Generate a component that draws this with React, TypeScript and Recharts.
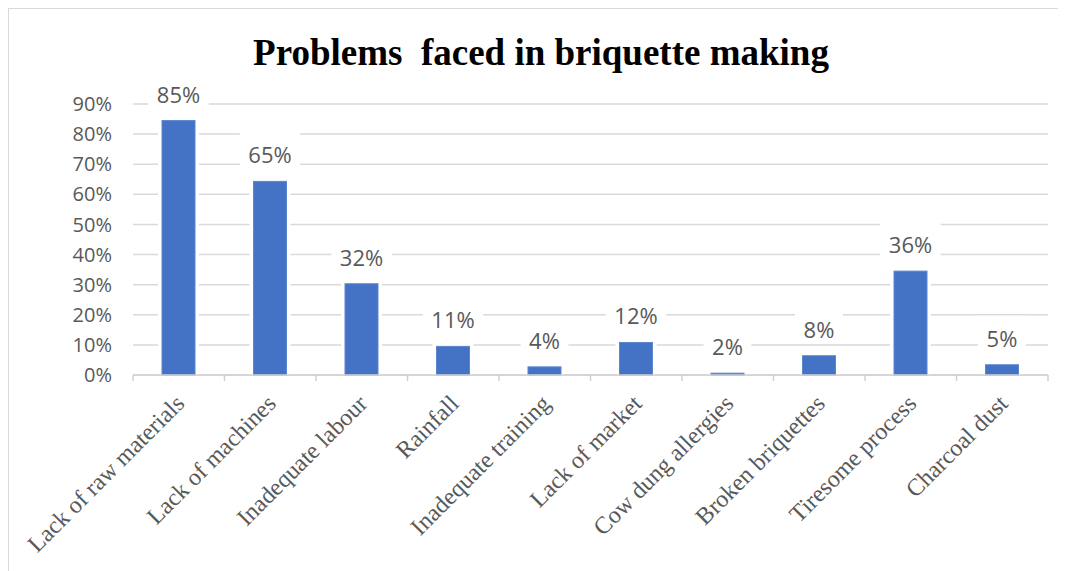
import { BarChart, Bar, XAxis, YAxis, CartesianGrid, LabelList } from 'recharts';

const problems = [
  'Lack of raw materials',
  'Lack of machines',
  'Inadequate labour',
  'Rainfall',
  'Inadequate training',
  'Lack of market',
  'Cow dung allergies',
  'Broken briquettes',
  'Tiresome process',
  'Charcoal dust',
];
// bar heights as drawn (they sit a touch under the printed labels)
const barShares = [84.5, 64.3, 30.3, 9.5, 2.7, 10.8, 0.6, 6.4, 34.5, 3.4];
const labelShares = [85, 65, 32, 11, 4, 12, 2, 8, 36, 5];
const yTicks = [0, 10, 20, 30, 40, 50, 60, 70, 80, 90];

const data = problems.map((name, i) => ({ name, value: barShares[i], label: labelShares[i] }));

const GREY = '#595959';
const SANS = '"Open Sans", "Noto Sans", sans-serif';
const SERIF = '"Liberation Serif", "Times New Roman", serif';

function OutlinedBar(props: any) {
  const { x, y, width, height } = props;
  if (!(height > 0)) return null;
  return (
    <g>
      <rect x={x - 4} y={y - 3} width={width + 8} height={height + 3} fill="#fff" />
      <rect x={x} y={y} width={width} height={height} fill="#4472C4" stroke="#5b86d0" strokeWidth={1} />
    </g>
  );
}

function textWidth(s: string) {
  let w = 0;
  for (const ch of s) w += ch === '%' ? 18.3 : 12.6;
  return w;
}

function BoxLabel(props: any) {
  const vb = props.viewBox ?? props;
  const { x, y, width } = vb;
  const text = `${props.value}%`;
  const w = textWidth(text);
  const cx = x + width / 2;
  const cy = y - 27;
  return (
    <g>
      <rect x={cx - w / 2 - 8.5} y={cy - 22} width={w + 17} height={35} fill="#fff" />
      <text x={cx} y={cy} textAnchor="middle" dominantBaseline="central" fill={GREY} fontSize={22} fontFamily={SANS}>
        {text}
      </text>
    </g>
  );
}

function SlantTick(props: any) {
  const { x, y, payload, index, visibleTicksCount } = props;
  const half = payload?.offset ?? 0;
  return (
    <g>
      <line x1={x - half} x2={x - half} y1={y} y2={y + 6} stroke="#d0d0d0" strokeWidth={1.5} />
      {index === visibleTicksCount - 1 && (
        <line x1={x + half} x2={x + half} y1={y} y2={y + 6} stroke="#d0d0d0" strokeWidth={1.5} />
      )}
      <text
        transform={`translate(${x + 7},${y + 30}) rotate(-45)`}
        textAnchor="end"
        fill={GREY}
        fontSize={24}
        fontFamily={SERIF}
      >
        {payload.value}
      </text>
    </g>
  );
}

export default function App() {
  return (
    <div
      style={{
        position: 'relative',
        width: 1053,
        height: 563,
        borderTop: '1px solid #d9d9d9',
        borderLeft: '1px solid #d9d9d9',
        borderRight: '1px solid #d9d9d9',
        background: '#fff',
      }}
    >
      <div
        style={{
          position: 'absolute',
          top: 25,
          left: 0,
          width: 1053,
          paddingLeft: 11,
          boxSizing: 'border-box',
          textAlign: 'center',
          fontFamily: SERIF,
          fontWeight: 'bold',
          fontSize: 37,
          lineHeight: '37px',
          color: '#000',
          zIndex: 1,
        }}
      >
        Problems&nbsp; faced in briquette making
      </div>
      <BarChart
        width={1053}
        height={562}
        data={data}
        margin={{ top: 95, right: 14, left: 0, bottom: 0 }}
        barSize={33}
      >
        <CartesianGrid horizontal vertical={false} stroke="#d9d9d9" strokeWidth={1.5} />
        <YAxis
          type="number"
          domain={[0, 90]}
          ticks={yTicks}
          tickFormatter={(v: number) => `${v}%`}
          axisLine={false}
          tickLine={false}
          tickSize={0}
          tickMargin={21}
          width={124}
          tick={{ fill: GREY, fontSize: 20, fontFamily: SANS }}
        />
        <Bar dataKey="value" shape={OutlinedBar} isAnimationActive={false}>
          <LabelList dataKey="label" content={BoxLabel} />
        </Bar>
        <XAxis
          dataKey="name"
          interval={0}
          height={196}
          axisLine={{ stroke: '#d0d0d0', strokeWidth: 1.5 }}
          tickLine={false}
          tickSize={0}
          tickMargin={0}
          tick={SlantTick}
        />
      </BarChart>
    </div>
  );
}
